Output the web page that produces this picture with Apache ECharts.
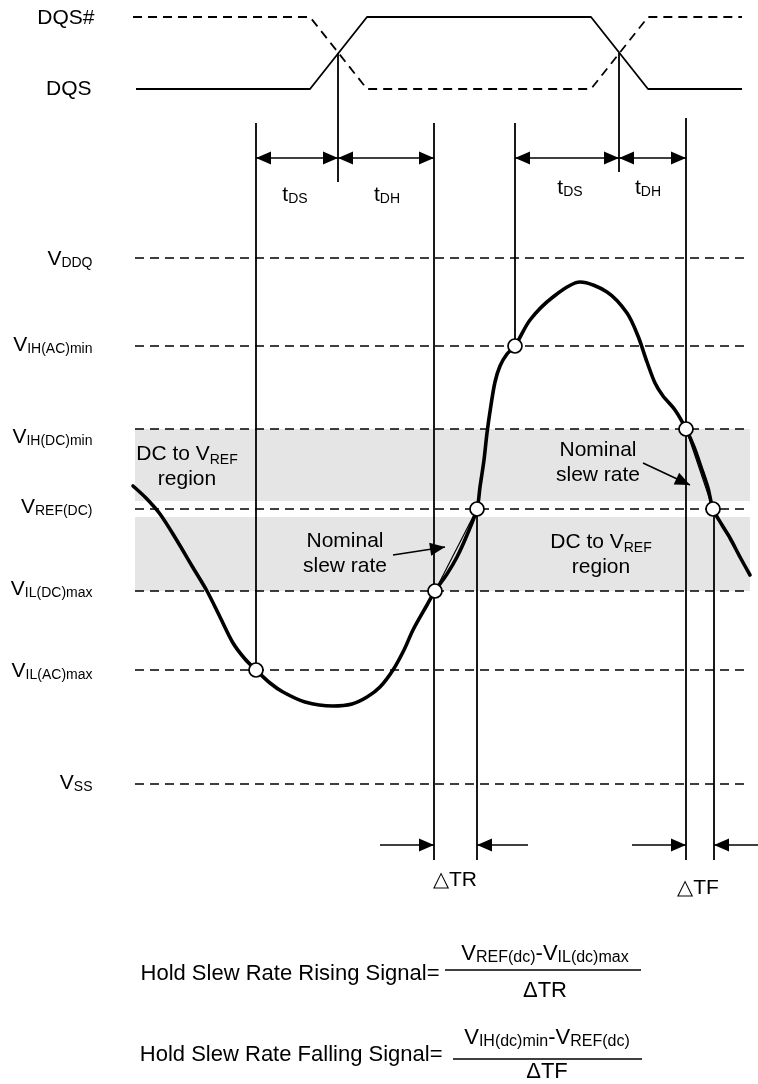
<!DOCTYPE html>
<html><head><meta charset="utf-8">
<script src="https://cdn.jsdelivr.net/npm/echarts@6/dist/echarts.min.js"></script>
<style>html,body{margin:0;padding:0;background:#fff}#c{width:758px;height:1084px}</style>
</head><body><div id="c"></div>
<script>
const FONT = "'Liberation Sans', Arial, Helvetica, sans-serif";

// ---------- data (axis units: time along x, signal level along y, inverted) ----------
const axisXMax = 758, axisYMax = 1084;
const windowStart = 135, windowEnd = 745, bandEnd = 750;

// voltage reference levels
const levelNames  = ['DDQ', 'IH(AC)min', 'IH(DC)min', 'REF(DC)', 'IL(DC)max', 'IL(AC)max', 'SS'];
const levelValues = [258, 346, 429, 509, 591, 670, 784];
const levelLabelAt = [259, 345, 437, 507, 589, 671, 783];

// shaded "DC to VREF" bands
const bandTop    = [429, 517];
const bandBottom = [501, 591];

// strobe waveforms
const dqsX    = [136, 310, 367, 591, 648, 742];
const dqsY    = [89, 89, 17, 17, 89, 89];
const dqsBarX = [133, 310, 367, 591, 648, 742];
const dqsBarY = [17, 17, 89, 89, 17, 17];

// data signal
const sigX = [133,146,160,176,192,207,220,233,245,256,270,283,305,333,352,367,380,393,404,413,427,435,447,457,467,477,480,484,487,491,495,500,507,515,530,553,580,607,627,638,647,655,663,675,686,694,701,708,713,722,730,740,750];
const sigY = [486,498,514,539,566,591,617,643,659,670,683,692,702,706,704,697,687,670,650,630,605,591,574,557,535,509,487,460,433,405,382,366,354,346,320,297,282,292,313,336,362,383,396,410,429,447,467,488,509,525,538,557,575];

// threshold crossing points
const crossX = [256, 435, 477, 515, 686, 713];
const crossY = [670, 591, 509, 346, 429, 509];

// nominal slew-rate chords (start index, end index into crossing points)
const chordFrom = [1, 4];
const chordTo   = [2, 5];

// vertical timing markers
const markX      = [256, 338, 434, 515, 619, 686, 477, 714];
const markTop    = [123, 53, 123, 123, 53, 118, 509, 509];
const markBottom = [670, 182, 860, 346, 172, 860, 860, 860];

// dimension arrows: x1, y1, x2, y2, head at start, head at end
const arrowX1 = [256, 338, 515, 619, 380, 528, 632, 758, 393, 643];
const arrowY1 = [158, 158, 158, 158, 845, 845, 845, 845, 555, 463];
const arrowX2 = [338, 434, 619, 686, 434, 477, 686, 714, 445, 690];
const arrowY2 = [158, 158, 158, 158, 845, 845, 845, 845, 547, 485];
const arrowHeadStart = [1, 1, 1, 1, 0, 0, 0, 0, 0, 0];
const arrowHeadEnd   = [1, 1, 1, 1, 1, 1, 1, 1, 1, 1];

// fraction bars of the formulas
const fracX1 = [445, 453];
const fracX2 = [641, 642];
const fracY  = [970, 1059];

// text annotations
const textStr = [
  'DQS#', 'DQS',
  't{s|DS}', 't{s|DH}', 't{s|DS}', 't{s|DH}',
  'DC to V{s2|REF}\nregion', 'Nominal\nslew rate', 'Nominal\nslew rate', 'DC to V{s2|REF}\nregion',
  '△TR', '△TF',
  '{big|Hold Slew Rate Rising Signal=}', '{big|V}{f|REF(dc)}{big|-V}{f|IL(dc)max}', '{big|ΔTR}',
  '{big|Hold Slew Rate Falling Signal=}', '{big|V}{f|IH(dc)min}{big|-V}{f|REF(dc)}', '{big|ΔTF}'
];
const textX = [95, 92, 295, 387, 570, 648, 187, 598, 345, 601, 455, 698, 440, 545, 545, 443, 547, 547];
const textY = [18, 89, 195, 195, 188, 188, 467, 463, 554, 555, 880, 888, 974, 954, 991, 1055, 1038, 1072];
const textAlign = ['right','right','center','center','center','center','center','center','center','center','center','center','right','center','center','right','center','center'];

// ---------- chart ----------
const chart = echarts.init(document.getElementById('c'), null, {renderer: 'canvas'});

const rich = {
  s:   {fontFamily: FONT, fontSize: 14, lineHeight: 15, verticalAlign: 'bottom', color: '#000'},
  s2:  {fontFamily: FONT, fontSize: 14, lineHeight: 19, verticalAlign: 'bottom', color: '#000'},
  big: {fontFamily: FONT, fontSize: 22, lineHeight: 24, color: '#000'},
  f:   {fontFamily: FONT, fontSize: 16, lineHeight: 17, verticalAlign: 'bottom', color: '#000'}
};

function segSeries(data, style, z) {
  return {
    type: 'custom', coordinateSystem: 'cartesian2d', clip: false, silent: true, z: z || 2,
    encode: {x: [0, 2], y: [1, 3]},
    data: data,
    renderItem: function (params, api) {
      const a = api.coord([api.value(0), api.value(1)]);
      const b = api.coord([api.value(2), api.value(3)]);
      return {type: 'line', shape: {x1: a[0], y1: a[1], x2: b[0], y2: b[1]},
        style: Object.assign({stroke: '#000', lineWidth: 1.5}, style)};
    }
  };
}

const levelData = levelValues.map(v => [windowStart, v, windowEnd, v]);
const markData = markX.map((x, i) => [x, markTop[i], x, markBottom[i]]);
const chordData = chordFrom.map((f, i) => [crossX[f], crossY[f], crossX[chordTo[i]], crossY[chordTo[i]]]);
const fracData = fracY.map((y, i) => [fracX1[i], y, fracX2[i], y]);
const bandData = bandTop.map((t, i) => [windowStart, t, bandEnd, bandBottom[i]]);
const arrowData = arrowX1.map((x, i) => [x, arrowY1[i], arrowX2[i], arrowY2[i], arrowHeadStart[i], arrowHeadEnd[i]]);

const labelData = [];
levelNames.forEach((n, i) => labelData.push({value: [93, levelLabelAt[i]], txt: 'V{s|' + n + '}', al: 'right'}));
textStr.forEach((t, i) => labelData.push({value: [textX[i], textY[i]], txt: t, al: textAlign[i]}));

function head(tip, from) {
  const dx = tip[0] - from[0], dy = tip[1] - from[1];
  const L = Math.hypot(dx, dy) || 1, ux = dx / L, uy = dy / L;
  const len = 15, w = 6.5;
  const bx = tip[0] - ux * len, by = tip[1] - uy * len;
  return {type: 'polygon', shape: {points: [[tip[0], tip[1]], [bx - uy * w, by + ux * w], [bx + uy * w, by - ux * w]]},
    style: {fill: '#000'}};
}

const option = {
  animation: false,
  backgroundColor: '#fff',
  grid: {left: 0, right: 0, top: 0, bottom: 0},
  xAxis: {type: 'value', min: 0, max: axisXMax, show: false},
  yAxis: {type: 'value', min: 0, max: axisYMax, inverse: true, show: false},
  series: [
    { // shaded bands
      type: 'custom', coordinateSystem: 'cartesian2d', clip: false, silent: true, z: 1,
      encode: {x: [0, 2], y: [1, 3]}, data: bandData,
      renderItem: function (params, api) {
        const a = api.coord([api.value(0), api.value(1)]);
        const b = api.coord([api.value(2), api.value(3)]);
        return {type: 'rect', shape: {x: a[0], y: a[1], width: b[0] - a[0], height: b[1] - a[1]}, style: {fill: '#e5e5e5'}};
      }
    },
    segSeries(levelData, {lineDash: [9, 6], lineWidth: 1.6}, 2),
    segSeries(markData, {lineWidth: 1.8}, 3),
    segSeries(chordData, {lineWidth: 1.2}, 4),
    segSeries(fracData, {lineWidth: 1.6}, 3),
    {
      type: 'line', data: dqsX.map((x, i) => [x, dqsY[i]]), symbol: 'none', z: 3, silent: true,
      lineStyle: {color: '#000', width: 1.8}
    },
    {
      type: 'line', data: dqsBarX.map((x, i) => [x, dqsBarY[i]]), symbol: 'none', z: 3, silent: true,
      lineStyle: {color: '#000', width: 1.8, type: [9, 6]}
    },
    {
      type: 'line', data: sigX.map((x, i) => [x, sigY[i]]), symbol: 'none', smooth: 0.3, z: 5, silent: true,
      lineStyle: {color: '#000', width: 3.6, cap: 'round', join: 'round'}
    },
    { // arrows
      type: 'custom', coordinateSystem: 'cartesian2d', clip: false, silent: true, z: 6,
      encode: {x: [0, 2], y: [1, 3]}, data: arrowData,
      renderItem: function (params, api) {
        const a = api.coord([api.value(0), api.value(1)]);
        const b = api.coord([api.value(2), api.value(3)]);
        const ch = [{type: 'line', shape: {x1: a[0], y1: a[1], x2: b[0], y2: b[1]}, style: {stroke: '#000', lineWidth: 1.6}}];
        if (api.value(4)) ch.push(head(a, b));
        if (api.value(5)) ch.push(head(b, a));
        return {type: 'group', children: ch};
      }
    },
    {
      type: 'scatter', data: crossX.map((x, i) => [x, crossY[i]]), symbol: 'circle', symbolSize: 14, z: 8, silent: true,
      itemStyle: {color: '#fff', borderColor: '#000', borderWidth: 1.7, opacity: 1}
    },
    {
      type: 'scatter', symbol: 'circle', symbolSize: 1, z: 9, silent: true,
      itemStyle: {color: 'rgba(0,0,0,0)', opacity: 1},
      data: labelData.map(d => ({
        value: d.value,
        label: {
          show: true,
          position: d.al === 'right' ? 'left' : 'inside',
          distance: 0,
          formatter: d.txt,
          fontFamily: FONT, fontSize: 21, lineHeight: (d.txt.indexOf('\n') >= 0 ? 25 : 22), color: '#000',
          align: d.al, verticalAlign: 'middle',
          rich: rich
        }
      }))
    }
  ]
};
chart.setOption(option);
</script>
</body></html>
